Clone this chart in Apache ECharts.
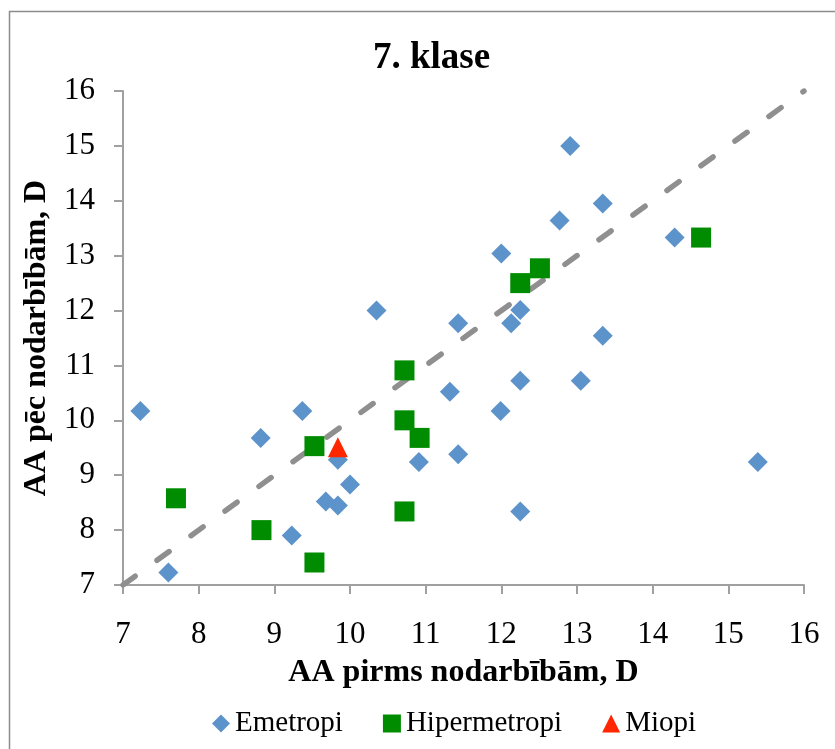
<!DOCTYPE html>
<html>
<head>
<meta charset="utf-8">
<script src="https://cdn.jsdelivr.net/npm/echarts@6/dist/echarts.min.js"></script>
<style>
html,body{margin:0;padding:0;background:#fff;}
#c{width:835px;height:749px;}
</style>
</head>
<body>
<div id="c"></div>
<script>
var chartTitle = '7. klase';
var xAxisTitle = 'AA pirms nodarbībām, D';
var yAxisTitle = 'AA pēc nodarbībām, D';
var seriesNames = ['Emetropi', 'Hipermetropi', 'Miopi'];

var emetropiX = [7.23, 7.60, 8.82, 9.37, 9.23, 9.68, 9.84, 9.84, 10.00, 10.91, 11.32, 11.43, 13.34, 12.25, 13.05, 11.99, 15.39, 12.25, 12.91, 13.34, 12.77, 12.00, 14.29, 12.25, 12.13, 11.43, 10.35];
var emetropiY = [10.17, 7.23, 9.68, 10.17, 7.90, 8.52, 8.45, 9.28, 8.83, 9.24, 10.52, 9.38, 11.54, 10.72, 10.72, 10.17, 9.24, 8.34, 15.00, 13.95, 13.64, 13.04, 13.33, 12.01, 11.77, 11.77, 12.00];

var hiperX = [7.70, 8.83, 9.53, 9.53, 10.72, 10.72, 10.92, 10.72, 14.64, 12.51, 12.25];
var hiperY = [8.58, 8.00, 9.53, 7.41, 10.91, 10.00, 9.68, 8.34, 13.33, 12.77, 12.50];

var miopiX = [9.84];
var miopiY = [9.51];

var trendX = [7, 16];
var trendY = [7, 16];

function pairs(xs, ys) { return xs.map(function (x, i) { return [x, ys[i]]; }); }

var serif = '"Liberation Serif", "Times New Roman", serif';
var axisGray = '#a0a0a0';

var chart = echarts.init(document.getElementById('c'), null, {renderer: 'canvas'});
chart.setOption({
  backgroundColor: '#ffffff',
  animation: false,
  title: {
    text: chartTitle,
    left: 368,
    top: 35,
    textStyle: {fontFamily: serif, fontWeight: 'bold', fontSize: 37, color: '#000'}
  },
  graphic: [{
    type: 'rect', silent: true, z: -1,
    shape: {x: 9.5, y: 11.5, width: 900, height: 900},
    style: {fill: 'none', stroke: '#8c8c8c', lineWidth: 1.5}
  }],
  legend: {
    left: 207,
    top: 704,
    itemGap: 40,
    itemWidth: 18,
    itemHeight: 18,
    data: seriesNames,
    textStyle: {fontFamily: serif, fontSize: 29, color: '#000'}
  },
  grid: {left: 123, right: 31, top: 91, bottom: 164, containLabel: false},
  xAxis: {
    type: 'value', min: 7, max: 16, interval: 1,
    name: xAxisTitle, nameLocation: 'middle', nameGap: 72,
    nameTextStyle: {fontFamily: serif, fontWeight: 'bold', fontSize: 32, color: '#000'},
    axisLine: {show: true, onZero: false, lineStyle: {color: axisGray, width: 2}},
    axisTick: {show: true, length: 9, lineStyle: {color: axisGray, width: 2}},
    axisLabel: {fontFamily: serif, fontSize: 31, color: '#000', margin: 34},
    splitLine: {show: false}
  },
  yAxis: {
    type: 'value', min: 7, max: 16, interval: 1,
    name: yAxisTitle, nameLocation: 'middle', nameGap: 70, nameRotate: 90,
    nameTextStyle: {fontFamily: serif, fontWeight: 'bold', fontSize: 32, color: '#000'},
    axisLine: {show: true, onZero: false, lineStyle: {color: axisGray, width: 2}},
    axisTick: {show: true, length: 9, lineStyle: {color: axisGray, width: 2}},
    axisLabel: {fontFamily: serif, fontSize: 31, color: '#000', margin: 28},
    splitLine: {show: false}
  },
  series: [
    {
      name: 'trend', type: 'line', data: pairs(trendX, trendY),
      symbol: 'none', silent: true, z: 1,
      lineStyle: {color: '#8f8f8f', width: 5.5, type: [15, 27], cap: 'round'}
    },
    {
      name: seriesNames[0], type: 'scatter', data: pairs(emetropiX, emetropiY),
      symbol: 'diamond', symbolSize: 20, z: 2,
      itemStyle: {color: '#5c93ca', opacity: 1}
    },
    {
      name: seriesNames[1], type: 'scatter', data: pairs(hiperX, hiperY),
      symbol: 'rect', symbolSize: 20, z: 3,
      itemStyle: {color: '#008c00', opacity: 1}
    },
    {
      name: seriesNames[2], type: 'scatter', data: pairs(miopiX, miopiY),
      symbol: 'triangle', symbolSize: 20, z: 4,
      itemStyle: {color: '#ff2600', opacity: 1}
    }
  ]
});
</script>
</body>
</html>
